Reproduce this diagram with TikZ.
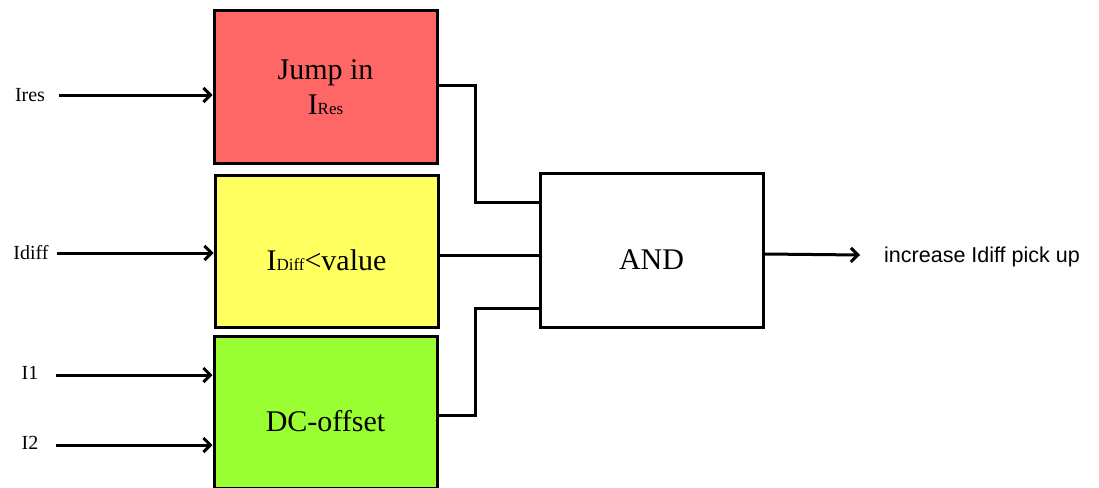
\documentclass[tikz,border=0pt]{standalone}
\usepackage{fontspec}
\setmainfont{Liberation Serif}
\newfontfamily\outfont{Liberation Sans}
\usetikzlibrary{arrows.meta,calc}
\definecolor{redfill}{HTML}{FF6666}
\definecolor{yellowfill}{HTML}{FFFF5F}
\definecolor{greenfill}{HTML}{99FF33}
\tikzset{
  blockbox/.style={draw=black,line width=3pt,minimum width=223pt,minimum height=152pt,inner sep=0pt,align=center,font=\fontsize{30}{35}\selectfont},
  lowtext/.style={text height=39pt,text depth=0pt},
  inlabel/.style={inner sep=0pt,font=\fontsize{20}{22}\selectfont},
  arr/.style={line width=3pt,-{Straight Barb[length=7pt,width=14pt,line width=3pt]}},
  wire/.style={line width=3pt,line join=miter}
}
\begin{document}
\begin{tikzpicture}[x=1pt,y=1pt]
\useasboundingbox (0,0) rectangle (1099,-487);
\clip (0,0) rectangle (1099,-487);
% blocks
\node[blockbox,fill=redfill] (red) at (325.5,-87) {Jump in\\I{\fontsize{17}{18}\selectfont Res}};
\node[blockbox,lowtext,fill=yellowfill] (yel) at (326.5,-251) {I{\fontsize{17}{18}\selectfont Diff}<value};
\node[blockbox,lowtext,fill=greenfill] (grn) at (325.5,-412) {DC-offset};
\node[blockbox,lowtext,fill=white,minimum height=154pt] (and) at (651.5,-250) {AND};
% input labels
\node[inlabel] (ires) at (30,-95) {Ires};
\node[inlabel] (idiff) at (31,-253) {Idiff};
\node[inlabel] (ione) at (30,-373) {I1};
\node[inlabel] (itwo) at (30,-443) {I2};
% input arrows
\draw[arr] ([xshift=14pt]ires.east) -- (ires.east -| red.west);
\draw[arr] ([xshift=8pt]idiff.east) -- (idiff.east -| yel.west);
\draw[arr] ([xshift=17pt,yshift=-2pt]ione.east) -- ([yshift=-2pt]ione.east -| grn.west);
\draw[arr] ([xshift=17pt,yshift=-2pt]itwo.east) -- ([yshift=-2pt]itwo.east -| grn.west);
% connections to AND
\coordinate (a1) at ($(and.west)+(0,48)$);
\coordinate (a3) at ($(and.west)+(0,-58)$);
\draw[wire] ([yshift=2pt]red.east) -- ++(37,0) |- (a1);
\draw[wire] ([yshift=-4pt]yel.east) -- ([yshift=-5pt]and.west);
\draw[wire] ([yshift=-3pt]grn.east) -- ++(37,0) |- (a3);
% output
\coordinate (oe) at (860,-255);
\draw[arr] ([yshift=-4pt]and.east) -- (oe);
\node[inner sep=0pt,anchor=west,font=\outfont\fontsize{21.5}{24}\selectfont] (out) at (884,-257) {increase Idiff pick up};
\end{tikzpicture}
\end{document}
